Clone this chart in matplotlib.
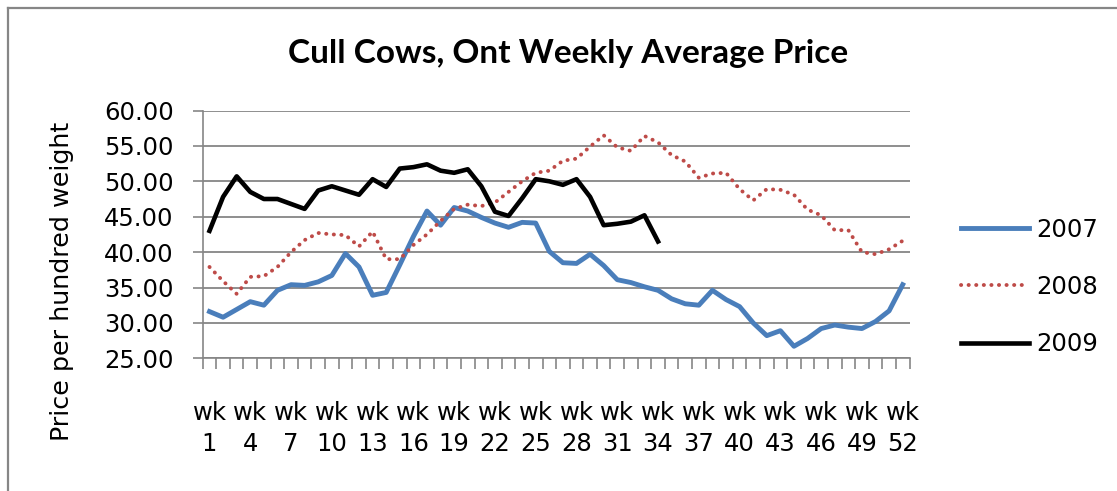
import numpy as np
import matplotlib.pyplot as plt
from matplotlib.lines import Line2D

weeks = list(range(1, 53))
tick_weeks = list(range(1, 53, 3))
tick_labels = [f'wk\n{w}' for w in tick_weeks]

p2007 = [31.6, 30.8, 31.9, 33.0, 32.5, 34.6, 35.4, 35.3, 35.8, 36.7,
         39.8, 37.9, 33.9, 34.3, 38.2, 42.2, 45.8, 43.8, 46.3, 45.8,
         44.9, 44.1, 43.5, 44.2, 44.1, 40.1, 38.5, 38.4, 39.7, 38.1,
         36.1, 35.7, 35.1, 34.6, 33.4, 32.7, 32.5, 34.6, 33.3, 32.3,
         30.0, 28.2, 28.9, 26.7, 27.8, 29.2, 29.7, 29.4, 29.2, 30.2,
         31.7, 35.4]
p2008 = [37.9, 35.9, 34.1, 36.5, 36.6, 37.9, 40.0, 41.7, 42.7, 42.5,
         42.4, 40.8, 42.9, 39.0, 39.0, 41.0, 42.5, 44.4, 46.1, 46.7,
         46.5, 47.0, 48.5, 50.0, 51.2, 51.5, 52.9, 53.2, 54.9, 56.5,
         54.8, 54.3, 56.4, 55.5, 53.7, 52.8, 50.5, 51.1, 51.2, 48.9,
         47.3, 48.9, 48.8, 48.1, 46.0, 45.2, 43.1, 43.1, 40.0, 39.7,
         40.4, 41.6]
p2009 = [43.0, 47.8, 50.7, 48.5, 47.5, 47.5, 46.8, 46.1, 48.7, 49.3,
         48.7, 48.1, 50.3, 49.2, 51.8, 52.0, 52.4, 51.5, 51.2, 51.7,
         49.3, 45.7, 45.1, 47.6, 50.3, 50.0, 49.5, 50.3, 47.8, 43.8,
         44.0, 44.3, 45.2, 41.5]

W, H = 1117, 491
fig = plt.figure(figsize=(W / 100, H / 100), dpi=100)
ax = fig.add_axes([202.7 / W, 1 - 358.3 / H, (909.5 - 202.7) / W, (358.3 - 110.5) / H])

grid_c = '#868686'
ax.plot(weeks, p2007, color='#4A7EBB', lw=3.5, label='2007', solid_joinstyle='round', zorder=3)
ax.plot(weeks, p2008, color='#BE4B48', lw=2.8, ls=(0, (0.05, 1.9)), dash_capstyle='round',
        label='2008', zorder=3)
ax.plot(weeks[:len(p2009)], p2009, color='black', lw=3.3, label='2009', solid_joinstyle='round', zorder=3)

ax.set_xlim(0.5, 52.5)
ax.set_ylim(25, 60)
ax.set_yticks(np.arange(25, 61, 5))
ax.set_yticklabels([f'{v:.2f}' for v in np.arange(25, 61, 5)])
ax.yaxis.grid(True, color=grid_c, lw=1.3)
ax.set_axisbelow(True)

ax.set_xticks(tick_weeks)
ax.set_xticklabels(tick_labels, linespacing=1.35)
ax.set_xticks(np.arange(0.5, 53, 1), minor=True)
ax.tick_params(axis='x', which='major', length=0, pad=31)
ax.tick_params(axis='x', which='minor', length=8, color=grid_c, width=1.2)
ax.tick_params(axis='y', length=7, color=grid_c, width=1.2, pad=14)
ax.tick_params(labelsize=17.5)
for lab in ax.get_xticklabels() + ax.get_yticklabels():
    lab.set_family('DejaVu Sans')

for s in ['top', 'right']:
    ax.spines[s].set_visible(False)
for s in ['left', 'bottom']:
    ax.spines[s].set_color(grid_c)
    ax.spines[s].set_linewidth(1.2)

fig.text(568 / W, 1 - 53 / H, 'Cull Cows, Ont Weekly Average Price', family='Lato',
         weight='bold', fontsize=24, ha='center', va='center')
fig.text(62 / W, 1 - 281 / H, 'Price per hundred weight', family='DejaVu Sans',
         fontsize=18.3, rotation=90, ha='center', va='center')

ax.legend(loc='center left', bbox_to_anchor=(939 / W, 1 - 287 / H), bbox_transform=fig.transFigure,
          frameon=False, fontsize=17.5, handlelength=2.8, handletextpad=0.3, labelspacing=1.37)

# outer chart border (only left and top edges visible)
fig.add_artist(Line2D([7.5 / W, 7.5 / W], [0, 1 - 7.5 / H], color=grid_c, lw=1.6))
fig.add_artist(Line2D([7.5 / W, 1], [1 - 7.5 / H, 1 - 7.5 / H], color=grid_c, lw=1.6))

plt.savefig('out.png', dpi=100)
